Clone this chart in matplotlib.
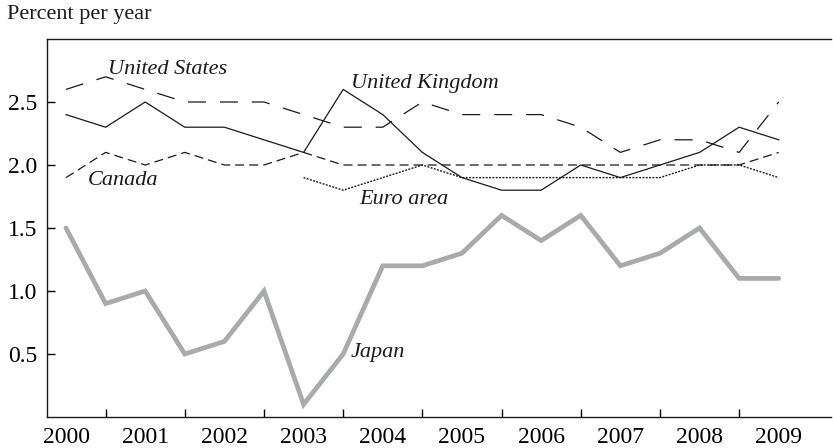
import matplotlib

matplotlib.use("Agg")

import matplotlib.pyplot as plt
import numpy as np

plt.rcParams["font.family"] = ["Liberation Serif", "DejaVu Serif"]
plt.rcParams["lines.scale_dashes"] = False

# half-year observations, 2000 through 2009
periods = np.arange(2000, 2009.01, 0.5)
united_states = [2.6, 2.7, 2.6, 2.5, 2.5, 2.5, 2.4, 2.3, 2.3, 2.5,
                 2.4, 2.4, 2.4, 2.3, 2.1, 2.2, 2.2, 2.1, 2.5]
united_kingdom = [2.4, 2.3, 2.5, 2.3, 2.3, 2.2, 2.1, 2.6, 2.4, 2.1,
                  1.9, 1.8, 1.8, 2.0, 1.9, 2.0, 2.1, 2.3, 2.2]
canada = [1.9, 2.1, 2.0, 2.1, 2.0, 2.0, 2.1, 2.0, 2.0, 2.0,
          2.0, 2.0, 2.0, 2.0, 2.0, 2.0, 2.0, 2.0, 2.1]
euro_periods = np.arange(2003, 2009.01, 0.5)
euro_area = [1.9, 1.8, 1.9, 2.0, 1.9, 1.9, 1.9, 1.9, 1.9, 1.9, 2.0, 2.0, 1.9]
japan = [1.5, 0.9, 1.0, 0.5, 0.6, 1.0, 0.1, 0.5, 1.2, 1.2,
         1.3, 1.6, 1.4, 1.6, 1.2, 1.3, 1.5, 1.1, 1.1]

years = list(range(2000, 2010))
yticks = [0.5, 1.0, 1.5, 2.0, 2.5]

fig = plt.figure(figsize=(8.33, 4.48), dpi=100)
ax = fig.add_axes([47 / 833, 1 - 417 / 448, (831 - 47) / 833, (417 - 39) / 448])

ax.plot(periods, japan, color="#a9aaad", lw=3.4, solid_joinstyle="miter",
        solid_capstyle="round")
ax.plot(periods, united_states, color="#1a1a1a", lw=0.9, dashes=(13, 10))
ax.plot(periods, canada, color="#1a1a1a", lw=0.9, dashes=(6.5, 3.6))
ax.plot(euro_periods, euro_area, color="#1a1a1a", lw=1.0, dashes=(1.4, 1.0))
ax.plot(periods, united_kingdom, color="#1a1a1a", lw=0.9)

lab = dict(fontsize=16, style="italic", color="#1a1a1a")
ax.text(2000.53, 2.76, "United States", ha="left", va="center", **lab)
ax.text(2003.6, 2.65, "United Kingdom", ha="left", va="center", **lab)
ax.text(2000.27, 1.88, "Canada", ha="left", va="center", **lab)
ax.text(2003.7, 1.73, "Euro area", ha="left", va="center", **lab)
ax.text(2003.6, 0.51, "Japan", ha="left", va="center", **lab)

ax.set_xlim(1999.76, 2009.66)
ax.set_ylim(0, 3.0)
ax.set_xticks(np.arange(2000.5, 2009, 1.0))
ax.set_xticklabels([])
ax.set_xticks(years, labels=[str(y) for y in years], minor=True)
ax.tick_params(axis="x", which="major", direction="in", length=6, width=1.0)
ax.tick_params(axis="x", which="minor", length=0, pad=7, labelsize=17)
ax.set_yticks(yticks, labels=[f"{v:.1f}" for v in yticks])
ax.tick_params(axis="y", direction="in", length=6, width=1.0, labelsize=17, pad=7)

for side in ("left", "bottom", "top"):
    ax.spines[side].set_linewidth(1.0)
    ax.spines[side].set_color("#1a1a1a")
ax.spines["right"].set_visible(False)

fig.text(7 / 833, 1 - 15 / 448, "Percent per year", ha="left", va="center",
         fontsize=16, color="#1a1a1a")

fig.savefig("out.png", dpi=100)
